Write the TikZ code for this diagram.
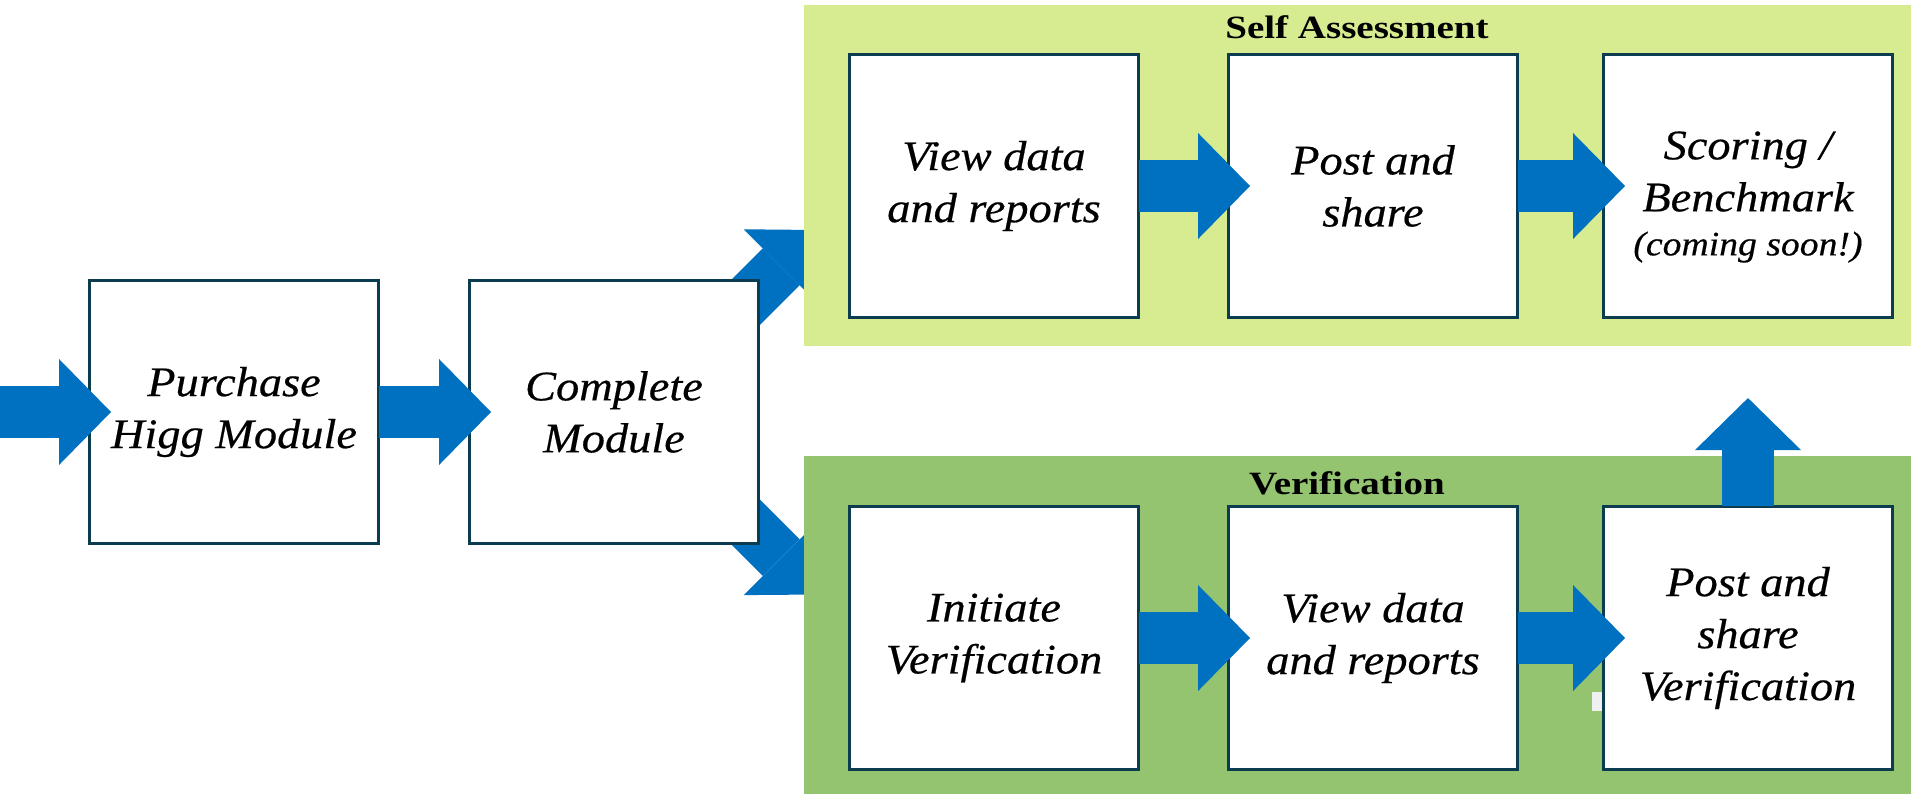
\documentclass[tikz,border=0pt]{standalone}
\usepackage{fontspec}
\setmainfont{Liberation Serif}
\newfontfamily\boxfont[FakeStretch=1.1,FakeBold=0.4]{Liberation Serif}
\newfontfamily\headfont[FakeStretch=1.2]{Liberation Serif}
\usetikzlibrary{arrows.meta,calc}
\definecolor{arrowblue}{HTML}{0070C0}
\definecolor{selfgreen}{HTML}{D7EC91}
\definecolor{verifgreen}{HTML}{94C46F}
\definecolor{boxline}{HTML}{0B3C50}
\pgfdeclarelayer{under}
\pgfsetlayers{under,main}
\tikzset{
	stage/.style={draw=boxline, line width=1.7pt, fill=white, outer sep=0pt,
		minimum width=5.8cm, minimum height=5.28cm, align=center,
		font=\boxfont\itshape\fontsize{24}{29.6}\selectfont},
	paneltitle/.style={font=\headfont\bfseries\fontsize{18.5}{22}\selectfont},
	flow/.style={draw=arrowblue, line width=1.04cm,
		-{Triangle[length=1.04cm,width=2.12cm,line width=0pt]}}
}

\begin{document}
\begin{tikzpicture}[x=0.02cm,y=-0.02cm]
	\useasboundingbox (0,0) rectangle (1911,795);

	\fill[selfgreen] (804,5) rectangle (1911,345.7);
	\fill[verifgreen] (804,456) rectangle (1911,794);
	\fill[white!94!black] (1592,692) rectangle (1602,711);

	\node[paneltitle] (stitle) at (1357,27) {Self Assessment};
	\node[paneltitle] (vtitle) at (1347,483) {Verification};

	\node[stage] (buy) at (234,412) {Purchase\\Higg Module};
	\node[stage] (done) at (614,412) {Complete\\Module};

	\node[stage] (sview) at (994,186) {View data\\and reports};
	\node[stage] (spost) at (1373,186) {Post and\\share};
	\node[stage] (score) at (1748,186) {\rule{0pt}{1cm}Scoring /\\Benchmark\\[-0.16cm]{\fontsize{19.5}{23}\selectfont(coming soon!)}};

	\node[stage] (vinit) at (994,638) {Initiate\\Verification};
	\node[stage] (vview) at (1373,638) {View data\\and reports};
	\node[stage] (vpost) at (1748,638) {Post and\\share\\Verification};

	\coordinate (start) at (0,412);
	\coordinate (split) at ([xshift=0.44cm]done.center);
	\coordinate (selftip) at (818,230);
	\coordinate (veriftip) at (818,594.5);

	\begin{pgfonlayer}{under}
		\draw[flow] (split) -- (selftip);
		\draw[flow] (split) -- (veriftip);
	\end{pgfonlayer}

	\draw[flow] (start) -- ([xshift=0.44cm]buy.west);
	\draw[flow] (buy.east) -- ([xshift=0.44cm]done.west);
	\draw[flow] (sview.east) -- ([xshift=0.44cm]spost.west);
	\draw[flow] (spost.east) -- ([xshift=0.44cm]score.west);
	\draw[flow] (vinit.east) -- ([xshift=0.44cm]vview.west);
	\draw[flow] (vview.east) -- ([xshift=0.44cm]vpost.west);
	\draw[flow] (vpost.north) -- ([yshift=2.16cm]vpost.north);
\end{tikzpicture}
\end{document}
